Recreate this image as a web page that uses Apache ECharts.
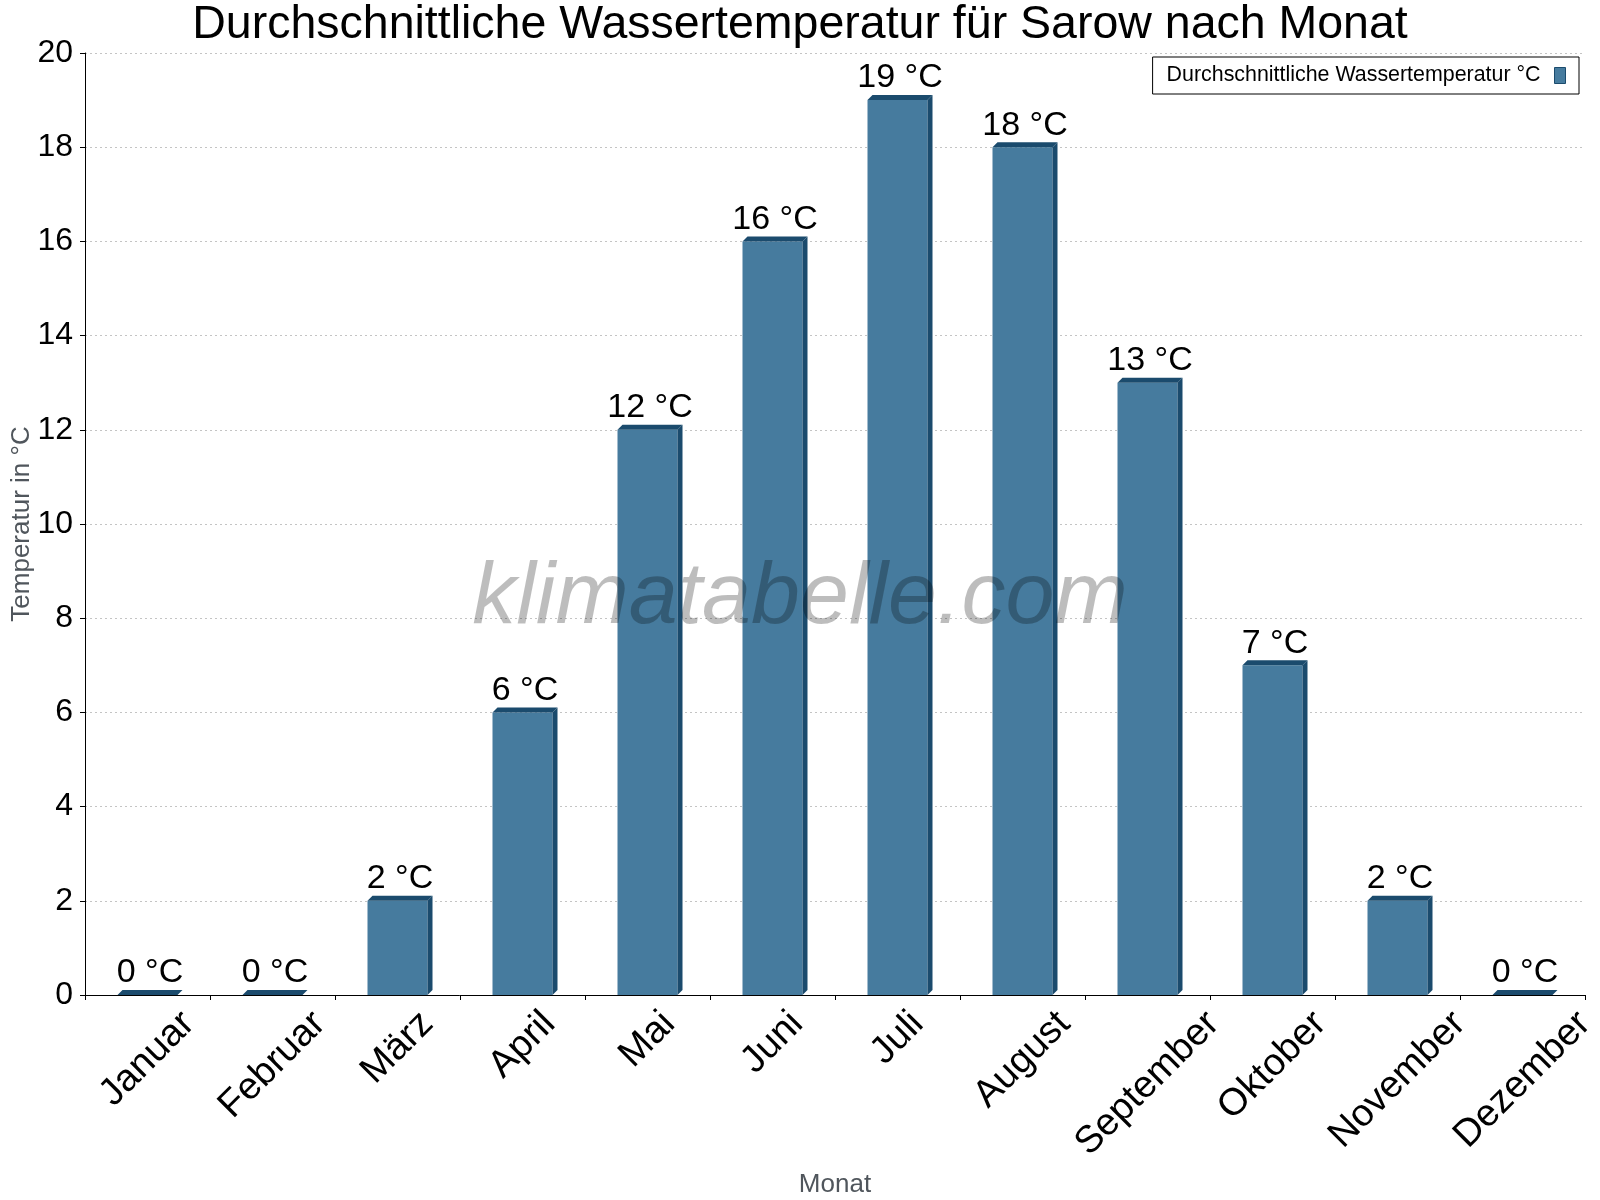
<!DOCTYPE html>
<html>
<head>
<meta charset="utf-8">
<script src="https://cdn.jsdelivr.net/npm/echarts@6/dist/echarts.min.js"></script>
<style>
  html, body { margin: 0; background: #fff; }
  #chart { width: 1600px; height: 1200px; }
</style>
</head>
<body>
<div id="chart"></div>
<script>
const months = ['Januar', 'Februar', 'März', 'April', 'Mai', 'Juni', 'Juli', 'August', 'September', 'Oktober', 'November', 'Dezember']
const waterTemp = [0, 0, 2, 6, 12, 16, 19, 18, 13, 7, 2, 0]
const seriesName = 'Durchschnittliche Wassertemperatur °C'

const FONT = '"Liberation Sans", Arial, Helvetica, sans-serif'
const frontColor = '#467b9e'
const sideColor = '#1b4b6d'
const DEPTH = 5
const X_LABEL_SIZE = 38

// rotated month labels are centred under their category: shift each one by its own length
// (align has to sit on the item itself, echarts ignores axisLabel.align for rotated labels;
//  zrender only applies vertical padding with verticalAlign top/bottom)
const ctx = document.createElement('canvas').getContext('2d')
ctx.font = X_LABEL_SIZE + 'px ' + FONT
const monthItems = months.map((m) => {
  const L = ctx.measureText(m).width
  return { value: m, textStyle: { align: 'center', verticalAlign: 'top', padding: [L / 4 - X_LABEL_SIZE / 2, L / 2, 0, 0] } }
})

// front face + dark right side + dark top, plus the value label
const renderBar = (params, api) => {
  const idx = api.value(0)
  const v = api.value(1)
  const base = api.coord([idx, 0])
  const top = api.coord([idx, v])
  const w = api.size([1, 0])[0] * 0.48
  const d = DEPTH
  const x0 = base[0] - w / 2, x1 = base[0] + w / 2
  const yb = base[1], yt = top[1]
  return {
    type: 'group',
    children: [
      { type: 'rect', shape: { x: x0, y: yt, width: w, height: yb - yt }, style: { fill: frontColor } },
      { type: 'polygon', shape: { points: [[x1, yt], [x1 + d, yt - d], [x1 + d, yb - d], [x1, yb]] }, style: { fill: sideColor } },
      { type: 'polygon', shape: { points: [[x0, yt], [x1, yt], [x1 + d, yt - d], [x0 + d, yt - d]] }, style: { fill: sideColor } },
      { type: 'text', x: base[0] + d / 2, y: yt - d,
        style: { text: v + ' °C', font: '34px ' + FONT, fill: '#000', align: 'center', verticalAlign: 'bottom' } }
    ]
  }
}

const chart = echarts.init(document.getElementById('chart'))
chart.setOption({
  backgroundColor: '#fff',
  animation: false,
  textStyle: { fontFamily: FONT },
  title: {
    text: 'Durchschnittliche Wassertemperatur für Sarow nach Monat',
    left: 'center', top: -3,
    textStyle: { fontSize: 46.5, fontWeight: 'normal', color: '#000', fontFamily: FONT }
  },
  legend: {
    right: 21, top: 57,
    align: 'right',
    padding: [8, 13, 8, 14],
    borderColor: '#000', borderWidth: 1,
    backgroundColor: '#fff',
    itemWidth: 11, itemHeight: 16,
    textStyle: { fontSize: 21.4, color: '#000', fontFamily: FONT, padding: [0, 9, 0, 0] },
    data: [{ name: seriesName, icon: 'rect', itemStyle: { color: frontColor, borderColor: sideColor, borderWidth: 1 } }]
  },
  grid: { left: 85, right: 15, top: 53, bottom: 205, containLabel: false, outerBoundsMode: 'none' },
  xAxis: {
    type: 'category',
    data: monthItems,
    boundaryGap: true,
    axisLine: { lineStyle: { color: '#000', width: 1 } },
    axisTick: { show: true, length: 5, lineStyle: { color: '#000' } },
    axisLabel: {
      interval: 0, rotate: 45, margin: 23, lineHeight: X_LABEL_SIZE,
      fontSize: X_LABEL_SIZE, color: '#000', fontFamily: FONT
    },
    splitLine: { show: false },
    name: 'Monat', nameLocation: 'middle', nameGap: 177, nameMoveOverlap: false,
    nameTextStyle: { fontSize: 26, color: '#50565c', fontFamily: FONT }
  },
  yAxis: {
    type: 'value', min: 0, max: 20, interval: 2,
    axisLine: { show: true, lineStyle: { color: '#000', width: 1 } },
    axisTick: { show: true, length: 5, lineStyle: { color: '#000' } },
    axisLabel: { fontSize: 32, color: '#000', margin: 12, fontFamily: FONT },
    splitLine: { show: true, lineStyle: { color: '#c4c4c4', type: [2, 3], width: 1 } },
    name: 'Temperatur in °C', nameLocation: 'middle', nameGap: 50, nameMoveOverlap: false,
    nameTextStyle: { fontSize: 26, color: '#50565c', fontFamily: FONT }
  },
  graphic: [{
    type: 'text', x: 800, y: 599, z: 100, silent: true,
    style: {
      text: 'klimatabelle.com', font: 'italic 88px ' + FONT,
      fill: 'rgba(0, 0, 0, 0.26)', align: 'center', verticalAlign: 'middle'
    }
  }],
  series: [{
    name: seriesName,
    type: 'custom',
    renderItem: renderBar,
    itemStyle: { color: frontColor },
    encode: { x: 0, y: 1 },
    data: waterTemp.map((v, i) => [i, v])
  }]
})
</script>
</body>
</html>
